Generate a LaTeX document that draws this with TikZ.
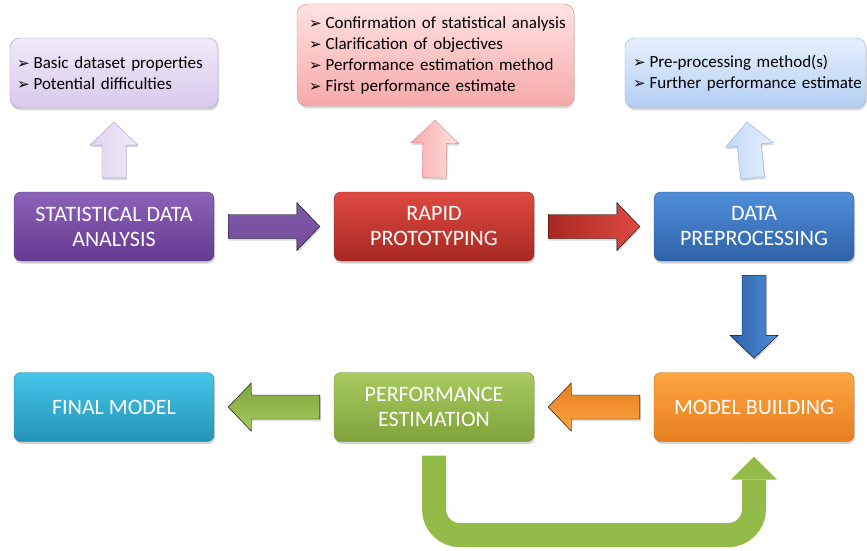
\documentclass[tikz,border=0pt]{standalone}
\usepackage{fontspec}
\setmainfont{Carlito}
\newfontfamily\dingfont{DejaVu Sans}
\usetikzlibrary{calc,shadows,arrows.meta}

\definecolor{sdatop}{HTML}{8B63B8}
\definecolor{sdabot}{HTML}{653A92}
\definecolor{sdaedge}{HTML}{5B3485}
\definecolor{rptop}{HTML}{DD4A41}
\definecolor{rpbot}{HTML}{A82822}
\definecolor{rpedge}{HTML}{962520}
\definecolor{dptop}{HTML}{4F8ED8}
\definecolor{dpbot}{HTML}{2E62A8}
\definecolor{dpedge}{HTML}{2A5895}
\definecolor{mbtop}{HTML}{FDA63F}
\definecolor{mbbot}{HTML}{E57E1E}
\definecolor{mbedge}{HTML}{C86A15}
\definecolor{petop}{HTML}{A8CB5F}
\definecolor{pebot}{HTML}{7FA23C}
\definecolor{peedge}{HTML}{6E8E33}
\definecolor{fmtop}{HTML}{45C6E8}
\definecolor{fmbot}{HTML}{2392B8}
\definecolor{fmedge}{HTML}{1E7FA0}
\definecolor{sdanotetop}{HTML}{F0EAF8}
\definecolor{sdanotebot}{HTML}{D8CAEC}
\definecolor{sdanoteedge}{HTML}{A894C8}
\definecolor{rpnotetop}{HTML}{FFE2E2}
\definecolor{rpnotebot}{HTML}{F7A9A9}
\definecolor{rpnoteedge}{HTML}{DA8585}
\definecolor{dpnotetop}{HTML}{E6F0FD}
\definecolor{dpnotebot}{HTML}{B4CEF3}
\definecolor{dpnoteedge}{HTML}{8FAEDC}
\definecolor{loopgreen}{HTML}{92BB48}

\newcommand{\bul}[1]{\mbox{{\dingfont\fontsize{15}{15}\selectfont ➢}\hspace{4pt}#1}}

\newcommand{\blockarrow}[3]{%
  \path ($(#2)!14pt!(#3)$) coordinate (ba-s) ($(#3)!14pt!(#2)$) coordinate (ba-t)
        ($(ba-t)!23pt!(ba-s)$) coordinate (ba-h);
  \draw[#1] ($(ba-s)!12pt!90:(ba-t)$) -- ($(ba-h)!12pt!90:(ba-t)$)
    -- ($(ba-h)!24pt!90:(ba-t)$) -- (ba-t) -- ($(ba-h)!24pt!-90:(ba-t)$)
    -- ($(ba-h)!12pt!-90:(ba-t)$) -- ($(ba-s)!12pt!-90:(ba-t)$) -- cycle;}

\tikzset{
  stage/.style={rounded corners=7pt, minimum width=200pt, minimum height=69pt,
    align=center, text=white, font=\fontsize{22}{25}\selectfont,
    drop shadow={opacity=0.35, shadow xshift=1pt, shadow yshift=-2.5pt}},
  note/.style={rounded corners=10pt, align=left, font=\fontsize{17}{21}\selectfont,
    drop shadow={opacity=0.3, shadow xshift=1pt, shadow yshift=-2.5pt}},
  flow/.style={drop shadow={opacity=0.3, shadow xshift=1pt, shadow yshift=-2pt}},
}

\begin{document}
\begin{tikzpicture}[x=1pt,y=1pt]
\useasboundingbox (0,0) rectangle (867,550);
\node[stage, top color=sdatop, bottom color=sdabot, draw=sdaedge] (sda) at (114,323.5) {STATISTICAL DATA\\ANALYSIS};
\node[stage, top color=rptop, bottom color=rpbot, draw=rpedge] (rp) at (434,323.5) {RAPID\\PROTOTYPING};
\node[stage, top color=dptop, bottom color=dpbot, draw=dpedge] (dp) at (754,323.5) {DATA\\PREPROCESSING};
\node[stage, top color=fmtop, bottom color=fmbot, draw=fmedge] (fm) at (114,143) {FINAL MODEL};
\node[stage, top color=petop, bottom color=pebot, draw=peedge] (pe) at (434,143) {PERFORMANCE\\ESTIMATION};
\node[stage, top color=mbtop, bottom color=mbbot, draw=mbedge] (mb) at (754,143) {MODEL BUILDING};

\node[note, top color=sdanotetop, bottom color=sdanotebot, draw=sdanoteedge, inner xsep=7pt,
  text width=194pt, minimum height=70pt] (sdanote) at (114,477)
  {\bul{Basic dataset properties}\\\bul{Potential difficulties}};
\node[note, top color=rpnotetop, bottom color=rpnotebot, draw=rpnoteedge, inner xsep=12pt,
  text width=253pt, minimum height=102pt] (rpnote) at (435.5,495)
  {\bul{Confirmation of statistical analysis}\\\bul{Clarification of objectives}\\
   \bul{Performance estimation method}\\\bul{First performance estimate}};
\node[note, top color=dpnotetop, bottom color=dpnotebot, draw=dpnoteedge, inner xsep=8pt,
  text width=225pt, minimum height=70pt] (dpnote) at (745.5,477)
  {\bul{Pre-processing method(s)}\\\bul{Further performance estimate}};

\blockarrow{flow, draw=sdanoteedge, left color=sdanotebot!80, right color=sdanotetop}{sda.north}{sdanote.south}
\blockarrow{flow, draw=rpnoteedge, left color=rpnotebot, right color=rpnotetop}{rp.north}{rpnote.south}
\blockarrow{flow, draw=dpnoteedge, left color=dpnotebot!80, right color=dpnotetop}{dp.north}{dpnote.south}

\blockarrow{flow, top color=sdatop!90!black, bottom color=sdabot!90}{sda.east}{rp.west}
\blockarrow{flow, left color=rpbot, right color=rptop}{rp.east}{dp.west}
\blockarrow{flow, left color=dpbot, right color=dptop}{dp.south}{mb.north}
\blockarrow{flow, top color=mbbot, bottom color=mbtop}{mb.west}{pe.east}
\blockarrow{flow, top color=pebot, bottom color=petop}{pe.west}{fm.east}

\draw[loopgreen, line width=24pt, rounded corners=26pt,
  -{Triangle[width=46pt,length=23pt,line width=0pt]}]
  ([yshift=-14pt]pe.south) -- ++(0,-79.5) -| ([yshift=-15pt]mb.south);
\end{tikzpicture}
\end{document}
